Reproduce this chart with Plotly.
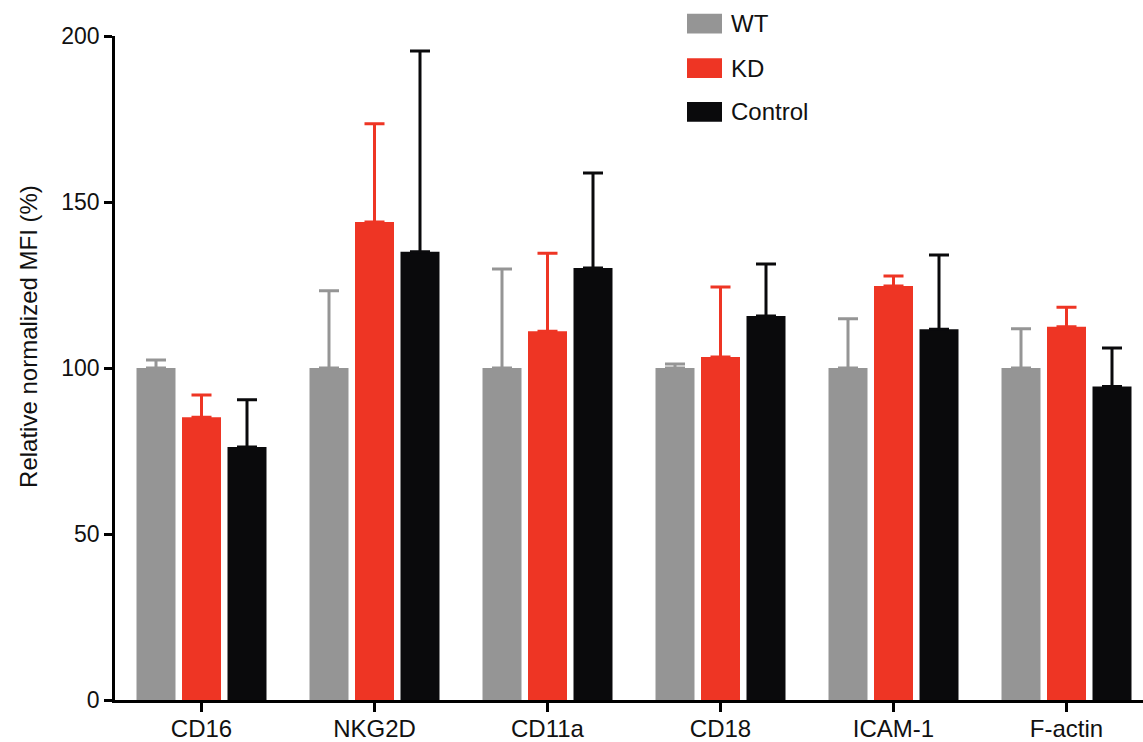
import plotly.graph_objects as go

categories = ["CD16", "NKG2D", "CD11a", "CD18", "ICAM-1", "F-actin"]
series_names = ["WT", "KD", "Control"]
wt_values = [100, 100, 100, 100, 100, 100]
wt_upper = [102.4, 123.3, 129.8, 101.2, 114.8, 111.8]
kd_values = [85.2, 144.0, 111.1, 103.3, 124.7, 112.4]
kd_upper = [91.9, 173.6, 134.6, 124.4, 127.7, 118.3]
ctrl_values = [76.2, 135.0, 130.1, 115.7, 111.7, 94.4]
ctrl_upper = [90.4, 195.5, 158.7, 131.3, 134.0, 106.0]
y_ticks = [0, 50, 100, 150, 200]

colors = {"WT": "#959595", "KD": "#EE3524", "Control": "#0A0A0C"}
FONT = "Liberation Sans, Arial, sans-serif"
TXT = "#111111"

W, H = 1143, 742
L, R, T, B = 115, 0, 36, 33
pw, ph = W - L - R, H - T - B

def px_x(p):
    return (p - L) / pw

def px_y(p):
    return (H - B - p) / ph

fig = go.Figure()
for name, vals, up in [("WT", wt_values, wt_upper), ("KD", kd_values, kd_upper), ("Control", ctrl_values, ctrl_upper)]:
    fig.add_trace(go.Bar(
        x=categories, y=vals, name=name,
        marker=dict(color=colors[name], line=dict(width=0)),
        error_y=dict(type="data", symmetric=False,
                     array=[u - v for u, v in zip(up, vals)],
                     arrayminus=[0] * len(vals),
                     color=colors[name], thickness=3, width=10),
        showlegend=False,
    ))

# custom legend
legend_rows = [("WT", 23.5), ("KD", 68.5), ("Control", 113)]
for name, cy in legend_rows:
    fig.add_shape(type="rect", xref="paper", yref="paper",
                  x0=px_x(687), x1=px_x(722), y0=px_y(cy + 10), y1=px_y(cy - 10),
                  fillcolor=colors[name], line=dict(width=0))
    fig.add_annotation(xref="paper", yref="paper", x=px_x(729), y=px_y(cy),
                       text=name, showarrow=False, xanchor="left", yanchor="middle",
                       font=dict(family=FONT, size=24, color=TXT))

fig.add_annotation(xref="paper", yref="paper", x=px_x(29), y=px_y(341),
                   text="Relative normalized MFI (%)", textangle=-90, showarrow=False,
                   xanchor="center", yanchor="middle",
                   font=dict(family=FONT, size=24, color=TXT))

fig.update_layout(
    width=W, height=H,
    margin=dict(l=L, r=R, t=T, b=B, pad=0),
    paper_bgcolor="white", plot_bgcolor="white",
    barmode="group", bargap=0.211, bargroupgap=0.143,
    font=dict(family=FONT, size=23, color=TXT),
    xaxis=dict(range=[-0.5, -0.5 + pw / 173.0], showline=True, linecolor="#000", linewidth=2.5,
               ticks="outside", ticklen=9, tickwidth=2.5, tickcolor="#000", ticklabelstandoff=-4,
               showgrid=False, zeroline=False, tickfont=dict(size=24, family=FONT, color=TXT)),
    yaxis=dict(range=[0, 200], tickvals=y_ticks, showline=True, linecolor="#000", linewidth=2.5,
               ticks="outside", ticklen=8, tickwidth=2.5, tickcolor="#000",
               showgrid=False, zeroline=False, tickfont=dict(size=23, family=FONT, color=TXT)),
)

fig.write_html("out.html", config={"displayModeBar": False},
               post_script="document.body.style.margin='0';document.body.style.overflow='hidden';")
